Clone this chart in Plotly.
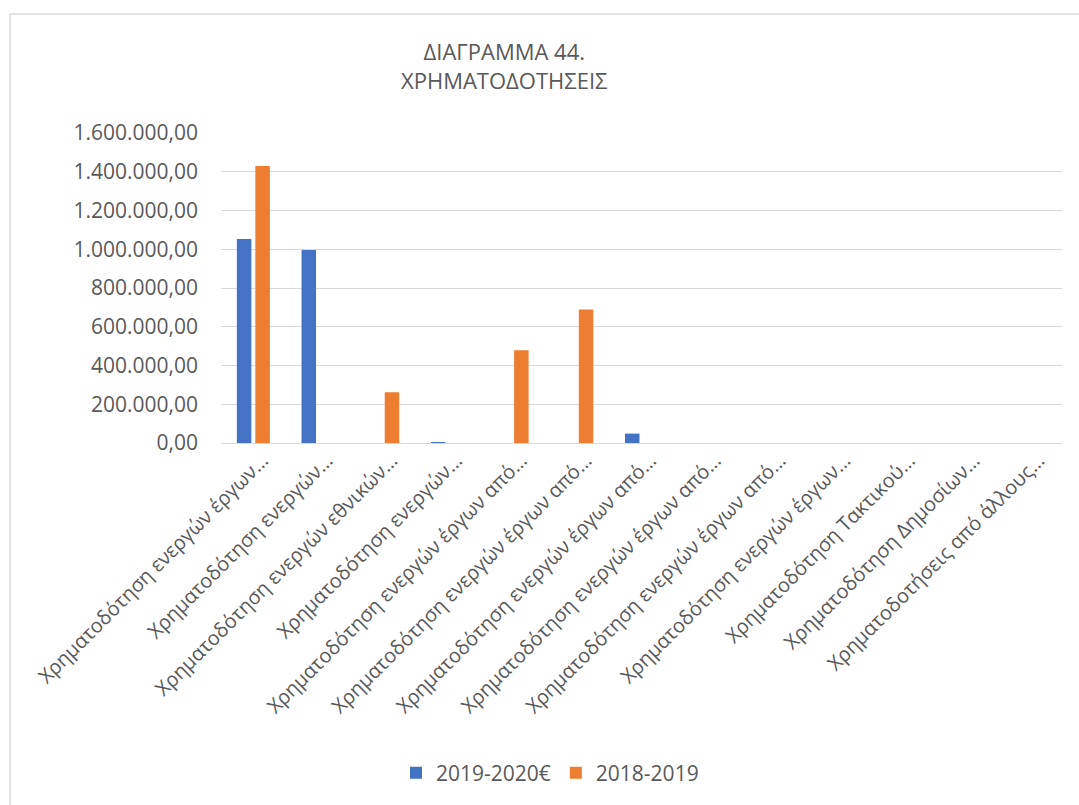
import plotly.graph_objects as go

# Funding categories (labels as shortened on the axis)
categories = [
    "Χρηματοδότηση ενεργών έργων…",
    "Χρηματοδότηση ενεργών…",
    "Χρηματοδότηση ενεργών εθνικών…",
    "Χρηματοδότηση ενεργών…",
    "Χρηματοδότηση ενεργών έργων από…",
    "Χρηματοδότηση ενεργών έργων από…",
    "Χρηματοδότηση ενεργών έργων από…",
    "Χρηματοδότηση ενεργών έργων από…",
    "Χρηματοδότηση ενεργών έργων από…",
    "Χρηματοδότηση ενεργών έργων…",
    "Χρηματοδότηση Τακτικού…",
    "Χρηματοδότηση Δημοσίων…",
    "Χρηματοδοτήσεις από άλλους…",
]

series_2019_2020 = [1053000, 996000, 0, 5000, 0, 0, 48500, 0, 0, 0, 0, 0, 0]
series_2018_2019 = [1430000, 0, 262000, 0, 478500, 688500, 0, 0, 0, 0, 0, 0, 0]

y_ticks = [0, 200000, 400000, 600000, 800000, 1000000, 1200000, 1400000, 1600000]

TEXT = "#595959"
GRID = "#D9D9D9"
FONT = "Open Sans"

# pixel layout of the plotting area
W, H = 1079, 805
L, R, T, B = 221, 1062, 133, 443


def px_x(px):
    return (px - L) / (R - L)


def px_y(py):
    return (B - py) / (B - T)


idx = list(range(len(categories)))

fig = go.Figure()
fig.add_trace(go.Bar(x=idx, y=series_2019_2020, name="2019-2020€",
                     marker=dict(color="#4472C4", line=dict(width=0))))
fig.add_trace(go.Bar(x=idx, y=series_2018_2019, name="2018-2019",
                     marker=dict(color="#ED7D31", line=dict(width=0))))

fig.update_layout(
    width=W, height=H,
    margin=dict(l=L, r=W - R, t=T, b=H - B, autoexpand=False),
    paper_bgcolor="white", plot_bgcolor="white",
    separators=",.",
    font=dict(family=FONT, color=TEXT, size=21),
    barmode="group", bargap=0.428, bargroupgap=0.216,
    showlegend=True,
    legend=dict(orientation="h", x=px_x(550), y=px_y(773),
                xanchor="center", yanchor="middle",
                font=dict(size=21, color=TEXT, family=FONT),
                itemwidth=30, tracegroupgap=0, bgcolor="rgba(0,0,0,0)"),
)

fig.update_xaxes(
    range=[-0.5, len(categories) - 0.5],
    tickmode="array", tickvals=idx, ticktext=categories,
    tickangle=-45, showgrid=False, zeroline=False, showline=False,
    ticks="", ticklabelstandoff=1, ticklabelshift=9,
    tickfont=dict(size=20, color=TEXT, family=FONT),
    fixedrange=True,
)
fig.update_yaxes(
    range=[0, 1600000], tickmode="array", tickvals=y_ticks,
    tickformat=",.2f", showgrid=True, gridcolor=GRID, gridwidth=1.3,
    zeroline=True, zerolinecolor=GRID, zerolinewidth=1.3,
    showline=False, ticks="", ticklabelstandoff=22,
    tickfont=dict(size=21, color=TEXT, family=FONT),
    fixedrange=True,
)

# two-line title
fig.add_annotation(
    text="ΔΙΑΓΡΑΜΜΑ 44.<br>ΧΡΗΜΑΤΟΔΟΤΗΣΕΙΣ",
    xref="paper", yref="paper", x=px_x(504), y=px_y(65),
    xanchor="center", yanchor="middle", showarrow=False,
    font=dict(size=22, color=TEXT, family=FONT),
)

# chart frame
fig.add_shape(type="line", xref="paper", yref="paper",
              x0=px_x(10), x1=px_x(1090), y0=px_y(14), y1=px_y(14),
              line=dict(color=GRID, width=1.5))
fig.add_shape(type="line", xref="paper", yref="paper",
              x0=px_x(10), x1=px_x(10), y0=px_y(14), y1=px_y(815),
              line=dict(color=GRID, width=1.5))

fig.write_html("out.html", config={"displayModeBar": False})
